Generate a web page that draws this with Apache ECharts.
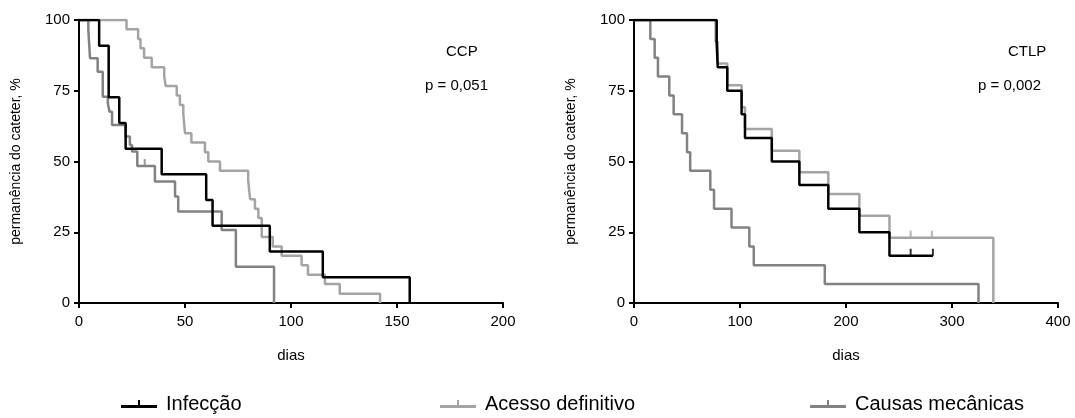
<!DOCTYPE html>
<html lang="pt">

<head>
    <meta charset="UTF-8">
    <script src="https://cdn.jsdelivr.net/npm/echarts@6/dist/echarts.min.js"></script>
    <title>Kaplan-Meier</title>
</head>

<body style="margin:0">
    <div id="main" style="width:1075px;height:418px;"></div>

    <script>
        // CCP (left panel)
        var ccpInfDays = [0, 9.5, 14, 19, 22, 39, 60, 63, 90, 115, 156];
        var ccpInfSurv = [100, 90.9, 72.7, 63.6, 54.5, 45.5, 36.4, 27.3, 18.2, 9.1, 0];

        var ccpAceDays = [0, 22.4, 27.9, 29, 30.7, 34.3, 40.2, 40.9, 46.1, 47.6, 49.2, 50, 53, 59.4, 61, 66.5, 79.8, 80.7, 83, 84.6, 86.2, 91.4, 95.6, 105, 108, 116, 123, 142];
        var ccpAceSurv = [100, 96.7, 93.3, 90, 86.7, 83.3, 80, 76.7, 73.3, 70, 66.7, 60, 56.7, 53.3, 50, 46.7, 43.3, 36.7, 33.3, 30, 23.3, 20, 16.7, 13.3, 10, 6.7, 3.3, 0];

        var ccpMecDays = [0, 4.4, 5.2, 8.8, 11.2, 13.6, 14.4, 15.6, 22, 24, 25, 27.5, 35.8, 45.3, 46.8, 67.3, 74, 92];
        var ccpMecSurv = [100, 96.5, 86.5, 81.7, 72.9, 70.6, 67.6, 62.9, 58.8, 55.8, 53.5, 48.4, 42.9, 37.6, 32.3, 25.8, 12.8, 0];
        var ccpMecCensor = [[31, 48.4]];

        // CTLP (right panel)
        var ctlpInfDays = [0, 78, 79, 88, 101.5, 104.7, 130, 156, 183.3, 212.6, 241, 282];
        var ctlpInfSurv = [100, 91.7, 83.3, 75, 66.7, 58.3, 50, 41.7, 33.3, 25, 16.7, 16.7];
        var ctlpInfCensor = [[261, 16.7], [282, 16.7]];

        var ctlpAceDays = [0, 77, 79, 88, 101.5, 104.7, 130, 156, 183.3, 212.6, 241, 339];
        var ctlpAceSurv = [100, 92.3, 84.6, 76.9, 69.2, 61.5, 53.8, 46.2, 38.5, 30.8, 23.1, 0];
        var ctlpAceCensor = [[261, 23.1], [281, 23.1]];

        var ctlpMecDays = [0, 15.4, 19.5, 22.6, 33.3, 37.4, 45.3, 50, 53, 72, 75.5, 92, 108.8, 113, 180, 325];
        var ctlpMecSurv = [100, 93.3, 86.7, 80, 73.3, 66.7, 60, 53.3, 46.7, 40, 33.3, 26.7, 20, 13.3, 6.7, 0];

        var names = ['Infecção', 'Acesso definitivo', 'Causas mecânicas'];
        var colors = ['#000000', '#a4a4a4', '#828282'];

        function pairs(d, s) {
            return d.map(function (x, i) { return [x, s[i]]; });
        }

        var font = 'Liberation Sans, Arial, sans-serif';
        var legendIcon = 'path://M0,5H36V8H0Z M17,0H19V5H17Z';

        function kmLine(idx, name, color, data) {
            return {
                name: name, type: 'line', step: 'end', xAxisIndex: idx, yAxisIndex: idx,
                data: data, symbol: 'none', color: color, z: name === 'Infecção' ? 5 : 3,
                lineStyle: { color: color, width: 2.5 }
            };
        }

        function censor(idx, color, data) {
            return {
                name: 'censor', type: 'scatter', xAxisIndex: idx, yAxisIndex: idx,
                data: data, symbol: 'rect', symbolSize: [2, 7], symbolOffset: [0, -3.5],
                itemStyle: { color: color }, z: 6
            };
        }

        function xAx(idx, max, interval) {
            return {
                gridIndex: idx, type: 'value', min: 0, max: max, interval: interval,
                name: 'dias', nameLocation: 'middle', nameGap: 45,
                nameTextStyle: { fontSize: 15, color: '#000', fontFamily: font },
                axisLine: { lineStyle: { color: '#000', width: 2 } },
                axisTick: { length: 5, lineStyle: { color: '#000', width: 2 } },
                axisLabel: { fontSize: 15, color: '#000', fontFamily: font, margin: 11 },
                splitLine: { show: false }
            };
        }

        function yAx(idx) {
            return {
                gridIndex: idx, type: 'value', min: 0, max: 100, interval: 25,
                name: 'permanência do cateter, %', nameLocation: 'middle', nameGap: 56,
                nameTextStyle: { fontSize: 14, color: '#000', fontFamily: font },
                axisLine: { show: true, lineStyle: { color: '#000', width: 2 } },
                axisTick: { show: true, length: 5, lineStyle: { color: '#000', width: 2 } },
                axisLabel: { fontSize: 15, color: '#000', fontFamily: font, margin: 9 },
                splitLine: { show: false }
            };
        }

        function legendItem(name, left) {
            return {
                data: [{ name: name, icon: legendIcon }], left: left, top: 389,
                itemWidth: 36, itemHeight: 8, itemGap: 0, selectedMode: false,
                textStyle: { fontSize: 20, color: '#000', fontFamily: 'Liberation Sans Narrow, Arial Narrow, ' + font, padding: [0, 0, 0, 4] }
            };
        }

        function label(x, y, text) {
            return {
                type: 'text', left: x, top: y,
                style: { text: text, fontSize: 15, fill: '#000', fontFamily: font }
            };
        }

        var chart = echarts.init(document.getElementById('main'));
        chart.setOption({
            animation: false,
            grid: [
                { left: 79, right: 572, top: 20, bottom: 115 },
                { left: 634, right: 17, top: 20, bottom: 115 }
            ],
            xAxis: [xAx(0, 200, 50), xAx(1, 400, 100)],
            yAxis: [yAx(0), yAx(1)],
            legend: [
                legendItem(names[0], 116),
                legendItem(names[1], 435),
                legendItem(names[2], 805)
            ],
            graphic: [
                label(446, 44, 'CCP'),
                label(425, 78, 'p = 0,051'),
                label(1008, 44, 'CTLP'),
                label(978, 78, 'p = 0,002')
            ],
            series: [
                kmLine(0, names[1], colors[1], pairs(ccpAceDays, ccpAceSurv)),
                kmLine(0, names[2], colors[2], pairs(ccpMecDays, ccpMecSurv)),
                kmLine(0, names[0], colors[0], pairs(ccpInfDays, ccpInfSurv)),
                censor(0, colors[2], ccpMecCensor),
                kmLine(1, names[1], colors[1], pairs(ctlpAceDays, ctlpAceSurv)),
                kmLine(1, names[2], colors[2], pairs(ctlpMecDays, ctlpMecSurv)),
                kmLine(1, names[0], colors[0], pairs(ctlpInfDays, ctlpInfSurv)),
                censor(1, colors[1], ctlpAceCensor),
                censor(1, colors[0], ctlpInfCensor)
            ]
        });
    </script>
</body>

</html>
